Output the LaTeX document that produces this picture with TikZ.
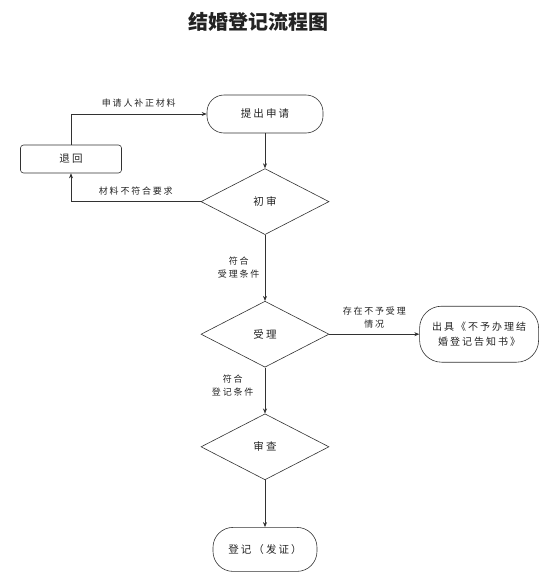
\documentclass[tikz,border=0pt]{standalone}
\usepackage{fontspec}
\setmainfont{Noto Sans CJK SC}
\newfontfamily\spacedfont{Noto Sans CJK SC}[LetterSpace=20]
\usepackage{tikz}
\usetikzlibrary{shapes.geometric, arrows.meta, positioning}
\definecolor{mydark}{RGB}{50,50,50}
\definecolor{mytext}{RGB}{35,35,35}
\tikzset{
  startstop/.style={rectangle, draw=mydark, text=mytext,
    minimum width=116pt, minimum height=38pt, align=center,
    font=\spacedfont\fontsize{10.5}{14}\selectfont, rounded corners=17pt, line width=0.6pt},
  plainbox/.style={rectangle, draw=mydark, text=mytext,
    minimum width=101pt, minimum height=28pt, align=center,
    font=\spacedfont\fontsize{10.5}{14}\selectfont, rounded corners=3pt, line width=0.6pt},
  decision/.style={diamond, draw=mydark, text=mytext, inner sep=0pt,
    minimum width=128pt, minimum height=66pt,
    font=\spacedfont\fontsize{10.5}{14}\selectfont, line width=0.6pt},
  edgelabel/.style={text=mytext, align=center,
    font=\spacedfont\fontsize{9}{13}\selectfont},
  arrow/.style={-{Stealth[length=5pt, width=4pt]}, line width=0.6pt, color=mydark}
}
\begin{document}
\begin{tikzpicture}[x=1pt, y=-1pt]
  \useasboundingbox (0,0) rectangle (554,581);

  % Title
  \node[text=mytext, font=\fontsize{20}{24}\selectfont\bfseries] (title) at (258,22) {结婚登记流程图};

  % Main column
  \node[startstop] (apply) at (265,114) {提出申请};
  \node[decision, below=35pt of apply] (check) {初审};
  \node[decision, below=66pt of check] (accept) {受理};
  \node[decision, below=46pt of accept] (review) {审查};
  \node[startstop, minimum width=104pt, minimum height=44pt, rounded corners=20pt,
    below=47pt of review] (register) {登记（发证）};

  % Side boxes
  \node[plainbox] (back) at (71,159) {退回};
  \node[startstop, minimum width=119pt, minimum height=56pt, rounded corners=22pt,
    right=90pt of accept, font=\spacedfont\fontsize{10}{15}\selectfont] (notice)
    {出具《不予办理结\\婚登记告知书》};

  % Connections
  \draw[arrow] (apply) -- (check);
  \draw[arrow] (check) -- node[edgelabel, left=2pt] {符合\\受理条件} (accept);
  \draw[arrow] (accept) -- node[edgelabel, left=8pt, pos=0.4] {符合\\登记条件} (review);
  \draw[arrow] (review) -- (register);
  \draw[arrow] (accept) -- node[edgelabel, above=2pt] {存在不予受理\\情况} (notice);
  \draw[arrow] (check.west) -| node[edgelabel, pos=0.25, above=3pt] {材料不符合要求} (back.south);
  \draw[arrow] (back.north) |- node[edgelabel, pos=0.75, above=3pt] {申请人补正材料} (apply.west);
\end{tikzpicture}
\end{document}
